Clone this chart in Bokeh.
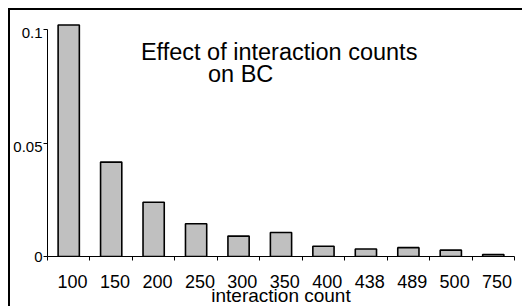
from bokeh.plotting import figure
from bokeh.models import Range1d, FixedTicker, Label
from bokeh.embed import file_html
from bokeh.resources import INLINE

categories = ["100", "150", "200", "250", "300", "350", "400", "438", "489", "500", "750"]
bc_values = [0.102, 0.0416, 0.0239, 0.0144, 0.0090, 0.0106, 0.0045, 0.0033, 0.0039, 0.0028, 0.0009]
y_ticks = [0, 0.05, 0.1]
y_tick_labels = ["0", "0.05", "0.1"]
title_lines = ["Effect of interaction counts", "on BC"]
x_label = "interaction count"

FONT = "Liberation Sans"
n = len(categories)
centers = [i + 0.5 for i in range(n)]
boundaries = [float(i) for i in range(n + 1)]
X_LABEL_SHIFT = 0.09      # tick labels sit slightly right of bar centres
Y_LABEL_SHIFT = 0.0017    # y tick labels hang slightly below their ticks

# canvas starts at (10,10) of the picture: 8px offset + 2px border
p = figure(width=514, height=298, output_backend="svg", toolbar_location=None,
           x_range=Range1d(0, n), y_range=Range1d(0, 0.104),
           min_border_left=34, min_border_right=10, min_border_top=10, min_border_bottom=50)
p.styles = {"margin-left": "8px", "margin-top": "8px",
            "border-top": "2px solid black", "border-left": "2px solid black"}
p.outline_line_color = None
p.xgrid.visible = False
p.ygrid.visible = False
p.background_fill_color = "white"
p.border_fill_color = "white"

p.vbar(x=centers, top=bc_values, bottom=0, width=0.5,
       fill_color="#c0c0c0", line_color="black", line_width=1.6)

# x axis: labels near centres, tick marks at category boundaries
xa = p.xaxis[0]
x_label_pos = [c + X_LABEL_SHIFT for c in centers]
xa.ticker = FixedTicker(ticks=x_label_pos, minor_ticks=boundaries)
xa.major_label_overrides = {c: lab for c, lab in zip(x_label_pos, categories)}
xa.bounds = (0, n)
xa.axis_line_color = "black"
xa.axis_line_width = 1
xa.major_tick_in = 0
xa.major_tick_out = 0
xa.major_tick_line_color = None
xa.minor_tick_in = 0
xa.minor_tick_out = 4
xa.minor_tick_line_color = "black"
xa.major_label_text_font = FONT
xa.major_label_text_font_size = "18px"
xa.major_label_text_color = "black"
xa.major_label_standoff = 14
xa.axis_label = x_label
xa.axis_label_text_font = FONT
xa.axis_label_text_font_size = "19px"
xa.axis_label_text_font_style = "normal"
xa.axis_label_text_color = "black"
xa.axis_label_standoff = -6

# y axis: tick marks at values, labels hanging just below them
ya = p.yaxis[0]
y_label_pos = [max(t - Y_LABEL_SHIFT, 0.0) for t in y_ticks]
ya.ticker = FixedTicker(ticks=y_label_pos, minor_ticks=y_ticks)
ya.major_label_overrides = {t: lab for t, lab in zip(y_label_pos, y_tick_labels)}
ya.bounds = (-Y_LABEL_SHIFT, 0.1)
ya.axis_line_color = "black"
ya.axis_line_width = 1
ya.major_tick_in = 0
ya.major_tick_out = 0
ya.major_tick_line_color = None
ya.minor_tick_in = 0
ya.minor_tick_out = 4
ya.minor_tick_line_color = "black"
ya.major_label_text_font = FONT
ya.major_label_text_font_size = "15px"
ya.major_label_text_color = "black"
ya.major_label_standoff = 1

p.add_layout(Label(x=2.2, y=0.0900, text=title_lines[0], text_font=FONT,
                   text_font_size="23.5px", text_color="black",
                   text_baseline="alphabetic", text_align="left"))
p.add_layout(Label(x=3.78, y=0.0804, text=title_lines[1], text_font=FONT,
                   text_font_size="23.5px", text_color="black",
                   text_baseline="alphabetic", text_align="left"))

open("out.html", "w").write(file_html(p, INLINE))
